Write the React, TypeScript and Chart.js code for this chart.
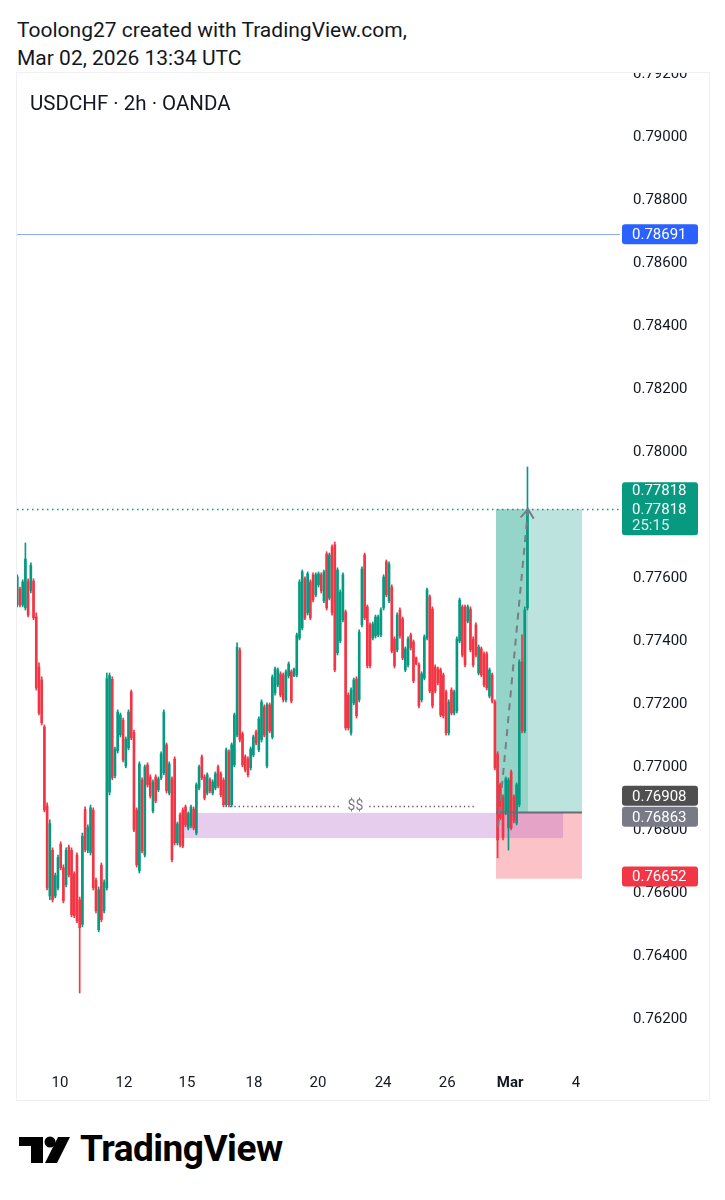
import React, { useEffect, useRef } from "react";
import { Chart, registerables } from "chart.js";

Chart.register(...registerables);

// ---------------- DATA ----------------
const opens = [
  0.77514, 0.77565, 0.77514, 0.77505, 0.7759, 0.7756, 0.7759, 0.77476, 0.77317, 0.77276,
  0.77127, 0.76876, 0.7659, 0.76735, 0.7659, 0.76616, 0.76755, 0.7668, 0.76626, 0.76745,
  0.76735, 0.7666, 0.7672, 0.76578, 0.765, 0.76865, 0.76735, 0.76728, 0.76862, 0.7664,
  0.76483, 0.76688, 0.76543, 0.76616, 0.7692, 0.77278, 0.76972, 0.77051, 0.77102, 0.77148,
  0.77003, 0.7706, 0.77238, 0.7711, 0.76863, 0.7667, 0.76958, 0.7672, 0.77006, 0.76968,
  0.7686, 0.76968, 0.76927, 0.76965, 0.76981, 0.7707, 0.76917, 0.76962, 0.77025, 0.76759,
  0.76848, 0.76863, 0.76873, 0.76806, 0.76813, 0.76866, 0.7679, 0.76933, 0.77032, 0.76968,
  0.76917, 0.76959, 0.76917, 0.76933, 0.77, 0.76978, 0.76958, 0.7688, 0.77048, 0.7688,
  0.77006, 0.77101, 0.77371, 0.77105, 0.77032, 0.77025, 0.76997, 0.77038, 0.77111, 0.77054,
  0.77086, 0.7719, 0.77003, 0.77197, 0.77095, 0.77235, 0.7726, 0.77295, 0.77292, 0.77213,
  0.77289, 0.77302, 0.77289, 0.77292, 0.77409, 0.77441, 0.77597, 0.77489, 0.77587, 0.7761,
  0.77546, 0.77578, 0.7761, 0.77527, 0.77676, 0.77536, 0.77698, 0.77705, 0.77362, 0.774,
  0.77467, 0.77492, 0.77228, 0.77108, 0.77203, 0.77279, 0.77213, 0.77451, 0.77673, 0.77508,
  0.77451, 0.77409, 0.77416, 0.77419, 0.77419, 0.77505, 0.77651, 0.77527, 0.77571, 0.77406,
  0.77371, 0.77498, 0.7747, 0.77308, 0.77324, 0.77419, 0.77397, 0.77346, 0.77324, 0.77213,
  0.77282, 0.77409, 0.7754, 0.77501, 0.77317, 0.77311, 0.77308, 0.77292, 0.77238, 0.77108,
  0.77244, 0.77171, 0.77178, 0.774, 0.77508, 0.77508, 0.77463, 0.77501, 0.77406, 0.77451,
  0.77298, 0.77375, 0.77359, 0.77359, 0.77225, 0.77292, 0.77206, 0.77041, 0.76943, 0.76905,
  0.76854, 0.76806, 0.76984, 0.76905, 0.76822, 0.7688, 0.77333, 0.77114, 0.77505,
];
const highs = [
  0.7761, 0.77571, 0.77594, 0.77711, 0.77597, 0.77648, 0.77597, 0.77489, 0.7733, 0.77286,
  0.77133, 0.76886, 0.76832, 0.76743, 0.76663, 0.7672, 0.76762, 0.76689, 0.76743, 0.76752,
  0.76743, 0.76667, 0.76727, 0.76587, 0.7679, 0.76873, 0.76816, 0.76879, 0.7687, 0.76647,
  0.76619, 0.76695, 0.76641, 0.77298, 0.77298, 0.77286, 0.77063, 0.77181, 0.77171, 0.77155,
  0.77095, 0.77181, 0.77244, 0.77117, 0.7687, 0.77016, 0.76965, 0.77006, 0.77013, 0.76975,
  0.76959, 0.76975, 0.76968, 0.77048, 0.77181, 0.77076, 0.77016, 0.76968, 0.77032, 0.76825,
  0.76854, 0.7687, 0.76879, 0.76857, 0.76879, 0.76873, 0.76949, 0.77006, 0.77038, 0.76975,
  0.76981, 0.76965, 0.76959, 0.76984, 0.77006, 0.76984, 0.76965, 0.7706, 0.77054, 0.77076,
  0.77171, 0.77394, 0.77378, 0.77111, 0.77038, 0.77032, 0.77063, 0.77101, 0.77117, 0.77159,
  0.77213, 0.77197, 0.77203, 0.77203, 0.77292, 0.77317, 0.77314, 0.77302, 0.77298, 0.77308,
  0.77333, 0.77308, 0.77314, 0.77425, 0.77594, 0.77625, 0.77603, 0.77619, 0.77594, 0.77616,
  0.77616, 0.77619, 0.77616, 0.77625, 0.77683, 0.77679, 0.77705, 0.77714, 0.77632, 0.77562,
  0.77616, 0.77498, 0.77235, 0.77251, 0.77282, 0.77286, 0.77435, 0.77635, 0.77679, 0.77514,
  0.77457, 0.7746, 0.77482, 0.77482, 0.77505, 0.7761, 0.77657, 0.77651, 0.77578, 0.77413,
  0.77489, 0.77505, 0.77476, 0.77381, 0.77413, 0.77425, 0.77403, 0.77349, 0.7733, 0.77302,
  0.77419, 0.77568, 0.77546, 0.77508, 0.77324, 0.77317, 0.77314, 0.77298, 0.77244, 0.77213,
  0.77251, 0.77244, 0.77413, 0.77536, 0.77514, 0.77514, 0.77514, 0.77508, 0.77413, 0.77457,
  0.77387, 0.77381, 0.77365, 0.77365, 0.77314, 0.77298, 0.77213, 0.77048, 0.76949, 0.76911,
  0.76968, 0.76965, 0.7699, 0.76911, 0.76949, 0.7734, 0.77419, 0.77508, 0.77952,
];
const lows = [
  0.77508, 0.77508, 0.77508, 0.77498, 0.77476, 0.77552, 0.77467, 0.77244, 0.77165, 0.77133,
  0.76857, 0.76609, 0.76578, 0.76571, 0.76584, 0.76609, 0.76673, 0.76568, 0.76619, 0.76651,
  0.76524, 0.76521, 0.76505, 0.76282, 0.76492, 0.7673, 0.76727, 0.7672, 0.76609, 0.76536,
  0.76476, 0.76508, 0.76536, 0.76609, 0.76911, 0.76959, 0.76965, 0.77044, 0.77095, 0.77016,
  0.76997, 0.77054, 0.77086, 0.76794, 0.76682, 0.76663, 0.76727, 0.76714, 0.76936, 0.76901,
  0.76854, 0.76886, 0.76921, 0.76959, 0.76975, 0.76917, 0.76911, 0.76698, 0.76752, 0.76752,
  0.76746, 0.76743, 0.7681, 0.768, 0.76806, 0.768, 0.76784, 0.76927, 0.76959, 0.76895,
  0.76911, 0.76917, 0.76911, 0.76927, 0.76933, 0.76905, 0.76873, 0.76873, 0.76873, 0.76873,
  0.77, 0.77095, 0.77079, 0.77, 0.76984, 0.76968, 0.7699, 0.77032, 0.7707, 0.77048,
  0.77079, 0.77095, 0.76997, 0.77108, 0.77089, 0.77228, 0.77254, 0.77222, 0.77206, 0.77206,
  0.77282, 0.77203, 0.77286, 0.77286, 0.77403, 0.77435, 0.77467, 0.77482, 0.77467, 0.77524,
  0.7754, 0.77571, 0.77552, 0.77521, 0.77498, 0.7753, 0.77482, 0.77302, 0.77355, 0.77394,
  0.7746, 0.77117, 0.77117, 0.77101, 0.77197, 0.77155, 0.77206, 0.77444, 0.77467, 0.77314,
  0.77314, 0.77403, 0.77409, 0.77413, 0.77413, 0.77498, 0.7754, 0.77521, 0.77362, 0.77314,
  0.77365, 0.77409, 0.7734, 0.77302, 0.77317, 0.77371, 0.77267, 0.77324, 0.77187, 0.77206,
  0.77276, 0.77403, 0.77235, 0.77187, 0.77235, 0.7726, 0.77159, 0.77155, 0.77101, 0.77101,
  0.77165, 0.77165, 0.77171, 0.77394, 0.77349, 0.77317, 0.77457, 0.77365, 0.77317, 0.77349,
  0.77292, 0.77286, 0.77254, 0.77244, 0.77219, 0.77203, 0.7699, 0.76711, 0.76832, 0.76768,
  0.76848, 0.76736, 0.768, 0.76822, 0.76816, 0.76873, 0.77108, 0.77108, 0.77498,
];
const closes = [
  0.77603, 0.77514, 0.77587, 0.7766, 0.77482, 0.7764, 0.77473, 0.77251, 0.77171, 0.7714,
  0.76863, 0.76616, 0.7682, 0.76578, 0.76655, 0.76712, 0.7668, 0.76575, 0.76735, 0.76657,
  0.7653, 0.76528, 0.76511, 0.76489, 0.7678, 0.76737, 0.76808, 0.7687, 0.76616, 0.76543,
  0.7661, 0.76515, 0.76633, 0.7728, 0.7729, 0.76966, 0.77056, 0.77174, 0.77165, 0.77022,
  0.77088, 0.77174, 0.77092, 0.768, 0.76689, 0.77009, 0.76733, 0.77, 0.76943, 0.76908,
  0.76952, 0.76892, 0.76962, 0.77041, 0.77174, 0.76924, 0.77009, 0.76705, 0.76759, 0.76819,
  0.76752, 0.76749, 0.76816, 0.76851, 0.76873, 0.76806, 0.76943, 0.77, 0.76965, 0.76901,
  0.76975, 0.76924, 0.76952, 0.76978, 0.7694, 0.76911, 0.7688, 0.77054, 0.7688, 0.7707,
  0.77165, 0.7738, 0.77086, 0.77006, 0.7699, 0.76975, 0.77057, 0.77095, 0.77076, 0.77152,
  0.77206, 0.77101, 0.77197, 0.77114, 0.77285, 0.77311, 0.77308, 0.77228, 0.77213, 0.77302,
  0.77327, 0.77209, 0.77311, 0.77419, 0.77587, 0.77619, 0.77473, 0.77613, 0.77473, 0.7753,
  0.7761, 0.77613, 0.77559, 0.77619, 0.77505, 0.77673, 0.77489, 0.77308, 0.77625, 0.77555,
  0.7761, 0.77124, 0.77124, 0.77244, 0.77276, 0.77162, 0.77428, 0.77628, 0.77473, 0.77321,
  0.77321, 0.77454, 0.77476, 0.77476, 0.77498, 0.77603, 0.77546, 0.77644, 0.77368, 0.77321,
  0.77482, 0.77416, 0.77346, 0.77375, 0.77406, 0.77378, 0.77273, 0.77327, 0.77194, 0.77295,
  0.77413, 0.77562, 0.77241, 0.77194, 0.77241, 0.77267, 0.77165, 0.77162, 0.77108, 0.77206,
  0.77171, 0.77238, 0.77406, 0.7753, 0.77355, 0.77324, 0.77508, 0.77371, 0.77324, 0.77355,
  0.77381, 0.77292, 0.7726, 0.77251, 0.77308, 0.77209, 0.76997, 0.76768, 0.76838, 0.76775,
  0.76962, 0.76958, 0.76806, 0.76829, 0.76943, 0.77333, 0.77114, 0.77498, 0.77818,
];

const priceTicks = [
  0.762, 0.764, 0.766, 0.768, 0.77, 0.772, 0.774, 0.776, 0.778, 0.78, 0.782, 0.784, 0.786,
  0.788, 0.79, 0.792,
];
const dateTickIndex = [15.7, 39.3, 62.5, 87.2, 110.8, 134.8, 158.4, 181.6, 205.9];
const dateTickLabels = ["10", "12", "15", "18", "20", "24", "26", "Mar", "4"];

const alertLevel = 0.78691;
const lastPrice = 0.77818;
const countdown = "25:15";
const positionTarget = 0.77818;
const positionEntry = 0.76855;
const positionStop = 0.76645;
const positionBars = [176.4, 188.2, 208.1]; // start, current bar, end (bar index)
const zoneBars = [60, 201.1];
const zonePrices = [0.76854, 0.76774];
const liquidityLevel = 0.76876;
const liquidityBars = [78.4, 124.6, 169.1]; // from, label, to
const liquidityLabel = "$$";
const arrowBars = [177.2, 188.2];
const arrowPrices = [0.7681, 0.77818];
const tagPrices = [0.78691, 0.76908, 0.76863, 0.76652];

// ---------------- STYLE ----------------
const UP = "#089981";
const DOWN = "#f23645";
const FONT = "Roboto, 'Noto Sans', Arial, sans-serif";
const X_MIN = -0.1;
const X_MAX = 222.1;
const Y_MIN = 0.76063;
const Y_MAX = 0.79203;
const TAG_COLORS = ["#2962ff", "#4f4f4f", "#787b86", "#f23645"];

function rr(ctx: CanvasRenderingContext2D, x: number, y: number, w: number, h: number, r: number) {
  ctx.beginPath();
  ctx.moveTo(x + r, y);
  ctx.lineTo(x + w - r, y);
  ctx.quadraticCurveTo(x + w, y, x + w, y + r);
  ctx.lineTo(x + w, y + h - r);
  ctx.quadraticCurveTo(x + w, y + h, x + w - r, y + h);
  ctx.lineTo(x + r, y + h);
  ctx.quadraticCurveTo(x, y + h, x, y + h - r);
  ctx.lineTo(x, y + r);
  ctx.quadraticCurveTo(x, y, x + r, y);
  ctx.closePath();
}

const overlayPlugin = {
  id: "tvOverlay",
  beforeDatasetsDraw(chart: any) {
    const { ctx, chartArea: a } = chart;
    const X = (v: number) => chart.scales.x.getPixelForValue(v);
    const Y = (v: number) => chart.scales.y.getPixelForValue(v);
    ctx.save();
    ctx.beginPath();
    ctx.rect(a.left, a.top, a.right - a.left, a.bottom - a.top);
    ctx.clip();

    // alert line
    const yA = Math.round(Y(alertLevel)) + 0.5;
    ctx.strokeStyle = "rgba(41,98,255,0.55)";
    ctx.lineWidth = 1;
    ctx.beginPath();
    ctx.moveTo(a.left, yA);
    ctx.lineTo(a.right, yA);
    ctx.stroke();

    // position tool fills
    const x0 = X(positionBars[0]);
    const xc = X(positionBars[1]);
    const x1 = X(positionBars[2]);
    const yT = Y(positionTarget);
    const yE = Y(positionEntry);
    const yS = Y(positionStop);
    ctx.fillStyle = "rgba(8,153,129,0.27)";
    ctx.fillRect(x0, yT, x1 - x0, yE - yT);
    ctx.fillStyle = "rgba(8,153,129,0.22)";
    ctx.fillRect(x0, yT, xc - x0, yE - yT);
    ctx.fillStyle = "rgba(242,54,69,0.3)";
    ctx.fillRect(x0, yE, x1 - x0, yS - yE);

    // demand zone
    const zx0 = X(zoneBars[0]);
    const zx1 = X(zoneBars[1]);
    const zy0 = Y(zonePrices[0]);
    const zy1 = Y(zonePrices[1]);
    ctx.fillStyle = "rgba(171,90,200,0.3)";
    ctx.fillRect(zx0, zy0, zx1 - zx0, zy1 - zy0);

    // liquidity dotted line with label
    const yq = Math.round(Y(liquidityLevel)) + 0.5;
    const xt = X(liquidityBars[1]);
    ctx.font = `14px ${FONT}`;
    const tw = ctx.measureText(liquidityLabel).width;
    ctx.strokeStyle = "#555a66";
    ctx.lineWidth = 1.3;
    ctx.setLineDash([1.3, 3]);
    ctx.beginPath();
    ctx.moveTo(X(liquidityBars[0]), yq);
    ctx.lineTo(xt - tw / 2 - 6, yq);
    ctx.moveTo(xt + tw / 2 + 6, yq);
    ctx.lineTo(X(liquidityBars[2]), yq);
    ctx.stroke();
    ctx.setLineDash([]);
    ctx.fillStyle = "#787b86";
    ctx.textAlign = "center";
    ctx.textBaseline = "middle";
    ctx.fillText(liquidityLabel, xt, yq);

    // last price dotted line
    const yL = Math.round(Y(lastPrice)) + 0.5;
    ctx.strokeStyle = UP;
    ctx.lineWidth = 1.5;
    ctx.setLineDash([1.5, 3.5]);
    ctx.beginPath();
    ctx.moveTo(a.left, yL);
    ctx.lineTo(a.right, yL);
    ctx.stroke();
    ctx.setLineDash([]);
    ctx.restore();
  },
  afterDatasetsDraw(chart: any) {
    const { ctx, chartArea: a } = chart;
    const X = (v: number) => chart.scales.x.getPixelForValue(v);
    const Y = (v: number) => chart.scales.y.getPixelForValue(v);
    ctx.save();
    ctx.beginPath();
    ctx.rect(a.left, a.top, a.right - a.left, a.bottom - a.top);
    ctx.clip();
    // entry line
    const yE = Y(positionEntry);
    ctx.strokeStyle = "#6a6d78";
    ctx.lineWidth = 2;
    ctx.beginPath();
    ctx.moveTo(X(positionBars[0]), yE);
    ctx.lineTo(X(positionBars[2]), yE);
    ctx.stroke();

    // dashed arrow
    const ax0 = X(arrowBars[0]);
    const ay0 = Y(arrowPrices[0]);
    const ax1 = X(arrowBars[1]);
    const ay1 = Y(arrowPrices[1]);
    ctx.strokeStyle = "#7a7d88";
    ctx.lineWidth = 2;
    ctx.setLineDash([7, 6]);
    ctx.beginPath();
    ctx.moveTo(ax0, ay0);
    ctx.lineTo(ax1, ay1);
    ctx.stroke();
    ctx.setLineDash([]);
    const ang = Math.atan2(ay1 - ay0, ax1 - ax0);
    const L = 11;
    ctx.beginPath();
    ctx.moveTo(ax1 + Math.cos(ang + 2.5) * L, ay1 + Math.sin(ang + 2.5) * L);
    ctx.lineTo(ax1, ay1);
    ctx.lineTo(ax1 + Math.cos(ang - 2.5) * L, ay1 + Math.sin(ang - 2.5) * L);
    ctx.stroke();
    ctx.restore();
  },
  afterDraw(chart: any) {
    const { ctx, chartArea: a } = chart;
    const Y = (v: number) => chart.scales.y.getPixelForValue(v);
    const tx = a.right + 2;
    const tw = 76;
    ctx.save();
    ctx.font = `15px ${FONT}`;
    ctx.textAlign = "left";
    ctx.textBaseline = "middle";

    // last price tag (3 rows)
    const yL = Y(lastPrice);
    ctx.fillStyle = UP;
    rr(ctx, tx, yL - 27, tw, 53, 3);
    ctx.fill();
    ctx.fillStyle = "#ffffff";
    ctx.fillText(positionTarget.toFixed(5), tx + 10, yL - 18);
    ctx.fillText(lastPrice.toFixed(5), tx + 10, yL + 1);
    ctx.fillStyle = "rgba(255,255,255,0.85)";
    ctx.fillText(countdown, tx + 10, yL + 17);

    let prevBottom = -1e9;
    tagPrices.forEach((p, i) => {
      let c = Y(p);
      if (c - 10 < prevBottom) c = prevBottom + 11;
      prevBottom = c + 10;
      ctx.fillStyle = TAG_COLORS[i];
      rr(ctx, tx, c - 10, tw, 20, 3);
      ctx.fill();
      ctx.fillStyle = "#ffffff";
      ctx.fillText(p.toFixed(5), tx + 10, c + 1);
    });
    ctx.restore();
  },
};

function CandleChart() {
  const ref = useRef<HTMLCanvasElement | null>(null);
  useEffect(() => {
    if (!ref.current) return;
    const colors = opens.map((o, i) => (closes[i] >= o ? UP : DOWN));
    const wickData = highs.map((h, i) => ({ x: i, y: [lows[i], h] }));
    const bodyData = opens.map((o, i) => ({ x: i, y: [o, closes[i]] }));
    const chart = new Chart(ref.current, {
      type: "bar",
      data: {
        datasets: [
          {
            data: wickData as any,
            backgroundColor: colors,
            barThickness: 1,
            grouped: false,
            borderWidth: 0,
          } as any,
          {
            data: bodyData as any,
            backgroundColor: colors,
            barThickness: 2,
            grouped: false,
            borderWidth: 0,
          } as any,
        ],
      },
      options: {
        responsive: false,
        animation: false,
        devicePixelRatio: 1,
        events: [],
        layout: { padding: 0 },
        plugins: { legend: { display: false }, tooltip: { enabled: false } },
        scales: {
          x: {
            type: "linear",
            min: X_MIN,
            max: X_MAX,
            offset: false,
            grid: { display: false, drawTicks: false },
            border: { display: false },
            afterBuildTicks: (s: any) => {
              s.ticks = dateTickIndex.map((v) => ({ value: v }));
            },
            afterFit: (s: any) => {
              s.height = 38;
              s.paddingLeft = 0;
              s.paddingRight = 0;
            },
            ticks: {
              autoSkip: false,
              maxRotation: 0,
              padding: 12,
              color: "#131722",
              font: (c: any) => ({
                family: FONT,
                size: 15,
                weight: dateTickLabels[c.index] === "Mar" ? "bold" : "normal",
              }),
              callback: (_v: any, i: number) => dateTickLabels[i],
            },
          } as any,
          y: {
            type: "linear",
            position: "right",
            min: Y_MIN,
            max: Y_MAX,
            grid: { display: false, drawTicks: false },
            border: { display: false },
            afterBuildTicks: (s: any) => {
              s.ticks = priceTicks.map((v) => ({ value: v }));
            },
            afterFit: (s: any) => {
              s.width = 89;
              s.paddingTop = 0;
              s.paddingBottom = 0;
            },
            ticks: {
              padding: 13,
              color: "#131722",
              font: { family: FONT, size: 15 },
              callback: (v: any) => Number(v).toFixed(5),
            },
          } as any,
        },
      },
      plugins: [overlayPlugin],
    });
    return () => chart.destroy();
  }, []);
  return (
    <canvas
      ref={ref}
      width={692}
      height={1027}
      style={{ position: "absolute", left: 17, top: 73, width: 692, height: 1027 }}
    />
  );
}

function Logo() {
  return (
    <svg
      width={80}
      height={40}
      viewBox="0 0 80 40"
      style={{ position: "absolute", left: 0, top: 1130 }}
    >
      <rect x={19} y={7} width={24} height={9} fill="#000" />
      <rect x={31} y={7} width={12} height={26} fill="#000" />
      <circle cx={50} cy={12} r={5.5} fill="#000" />
      <polygon points="58,7 70,7 57,33 45,33" fill="#000" />
    </svg>
  );
}

export default function App() {
  const text: React.CSSProperties = {
    position: "absolute",
    fontFamily: FONT,
    color: "#131722",
    whiteSpace: "nowrap",
  };
  return (
    <div
      style={{
        position: "absolute",
        left: 0,
        top: 0,
        width: 725,
        height: 1200,
        background: "#ffffff",
        overflow: "hidden",
      }}
    >
      <div style={{ ...text, left: 17, top: 16, fontSize: 21, lineHeight: "28px" }}>
        Toolong27 created with TradingView.com,
      </div>
      <div style={{ ...text, left: 17, top: 44, fontSize: 21, lineHeight: "28px" }}>
        Mar 02, 2026 13:34 UTC
      </div>
      <div
        style={{
          position: "absolute",
          left: 16,
          top: 72,
          width: 692,
          height: 1027,
          border: "1px solid #eef0f4",
        }}
      />
      <CandleChart />
      <div style={{ ...text, left: 30, top: 90, fontSize: 20.5, lineHeight: "26px" }}>
        USDCHF · 2h · OANDA
      </div>
      <Logo />
      <div
        style={{
          ...text,
          left: 80,
          top: 1127,
          fontSize: 37,
          lineHeight: "44px",
          fontWeight: 700,
          color: "#000",
          letterSpacing: -0.5,
        }}
      >
        TradingView
      </div>
    </div>
  );
}
